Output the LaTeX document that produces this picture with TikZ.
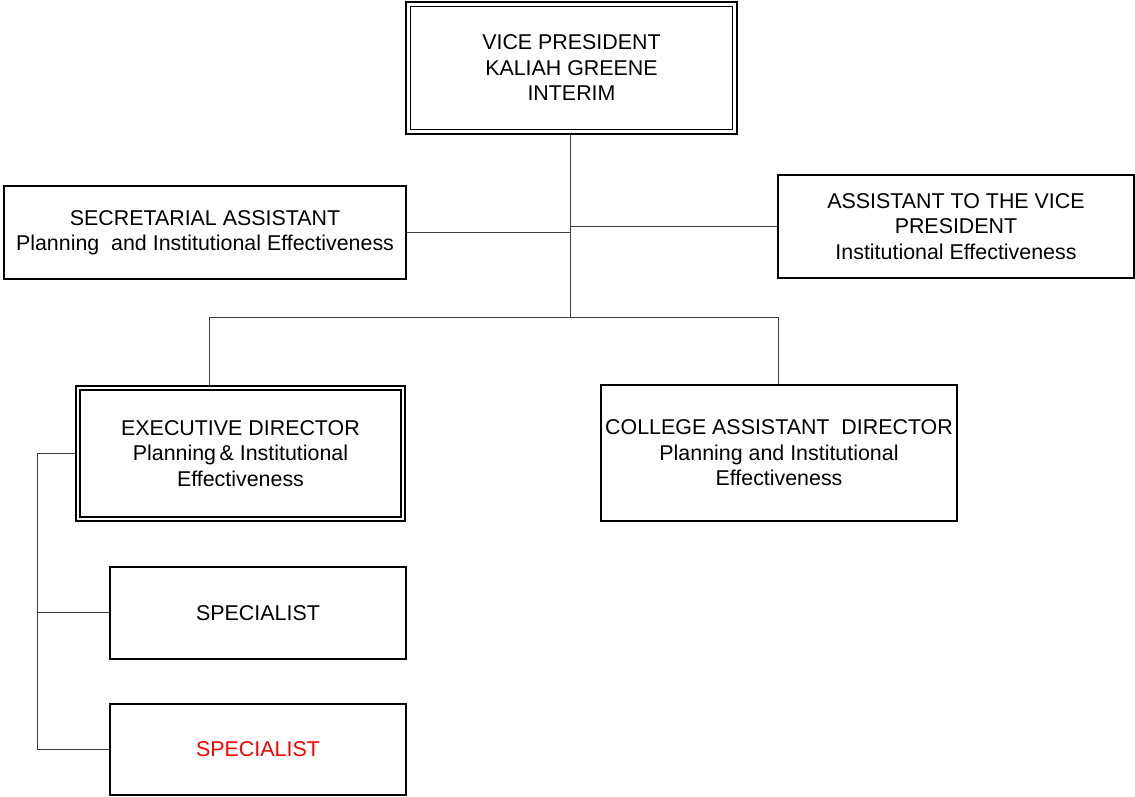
\documentclass[tikz,border=0pt]{standalone}
\usepackage{fontspec}
\setmainfont{Liberation Sans}
\usetikzlibrary{calc}
\begin{document}
\begin{tikzpicture}[x=1pt,y=-1pt,
  box/.style={draw=black,line width=1.8pt,fill=white,align=center,inner sep=0pt,
    font=\fontsize{21.4}{25.5}\selectfont},
  dbox/.style={box,line width=2pt},
  innerline/.style={draw=black,line width=1.3pt},
  conn/.style={draw=black!75,line width=1pt}]
\useasboundingbox (0,0) rectangle (1135,796);
% nodes
\node[dbox,minimum width=331,minimum height=132] (vp) at (571.5,68)
  {VICE PRESIDENT\\KALIAH GREENE\\INTERIM};
\draw[innerline] ($(vp.north west)+(5.5,5.5)$) rectangle ($(vp.south east)+(-5.5,-5.5)$);
\node[box,minimum width=402,minimum height=93] (sec) at (205,232.5)
  {SECRETARIAL ASSISTANT\\Planning\ \ and Institutional Effectiveness};
\node[box,minimum width=356,minimum height=103] (asst) at (956,226.5)
  {ASSISTANT TO THE VICE\\PRESIDENT\\Institutional Effectiveness};
\node[dbox,minimum width=329,minimum height=135] (ed) at (240.5,453.5)
  {EXECUTIVE DIRECTOR\\Planning\,\&\ Institutional\\Effectiveness};
\draw[innerline] ($(ed.north west)+(5,5)$) rectangle ($(ed.south east)+(-5,-5)$);
\node[box,minimum width=356,minimum height=136] (cad) at (779,453)
  {COLLEGE ASSISTANT\ \ DIRECTOR\\Planning and Institutional\\Effectiveness};
\node[box,minimum width=296,minimum height=92] (sp1) at (258,613)
  {SPECIALIST};
\node[box,minimum width=296,minimum height=91] (sp2) at (258,749.5)
  {\textcolor{red}{SPECIALIST}};
% coordinates
\coordinate (hub) at (570,317);
\coordinate (edj) at (209,317);
\coordinate (cadj) at (778,317);
\coordinate (lbar) at (37,453);
\coordinate (lb1) at (37,612);
\coordinate (lb2) at (37,749);
% connectors
\draw[conn] (vp.south -| hub) -- (hub);
\draw[conn] (sec.east |- 0,232) -- (570,232);
\draw[conn] (570,226) -- (asst.west |- 0,226);
\draw[conn] (edj) -- (cadj);
\draw[conn] (edj) -- (edj |- ed.north);
\draw[conn] (cadj) -- (cadj |- cad.north);
\draw[conn] (ed.west |- lbar) -- (lbar) -- (lb2) -- (lb2 -| sp2.west);
\draw[conn] (lb1) -- (lb1 -| sp1.west);
\end{tikzpicture}
\end{document}
